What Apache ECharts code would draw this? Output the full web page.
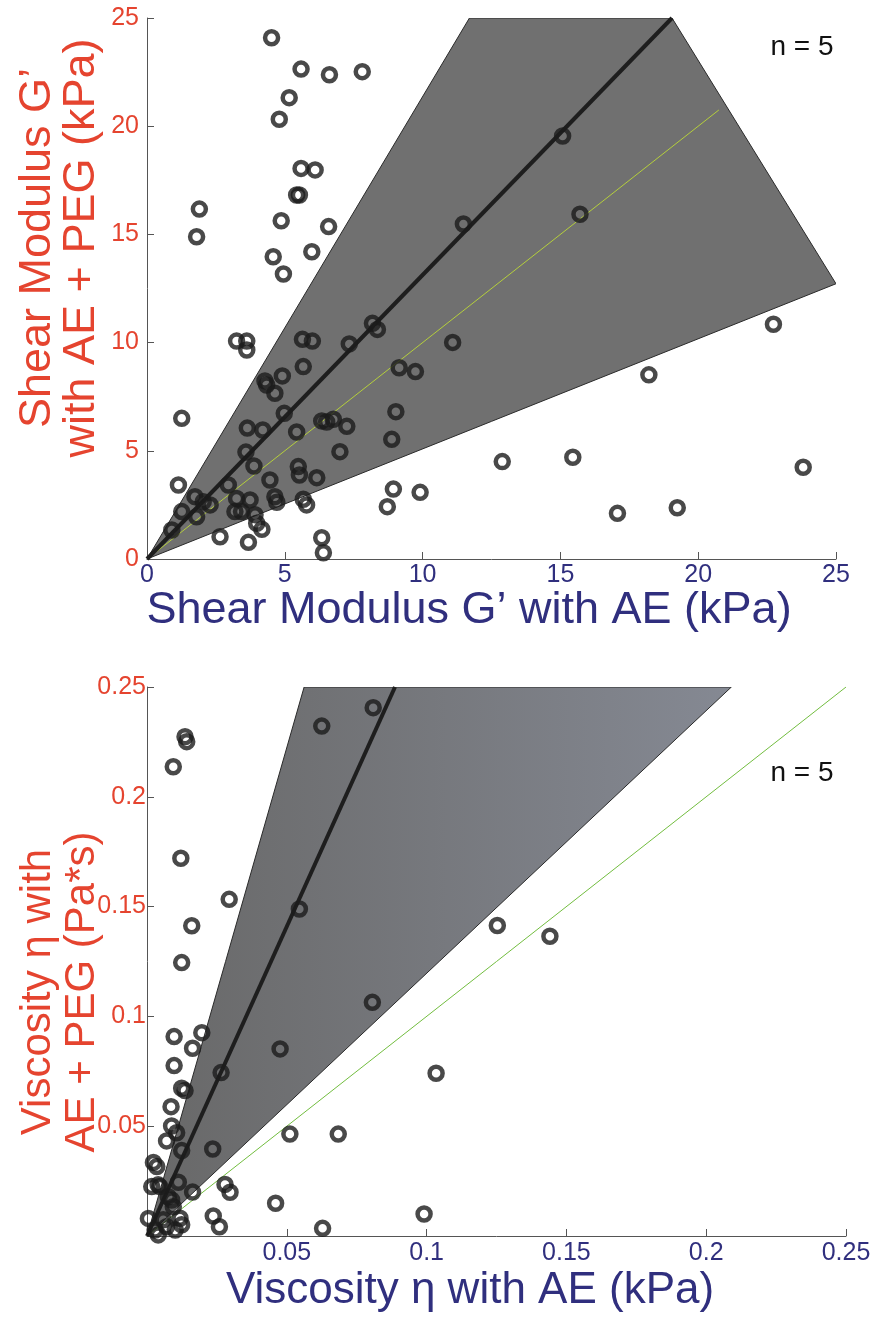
<!DOCTYPE html>
<html>
<head>
<meta charset="utf-8">
<script src="https://cdn.jsdelivr.net/npm/echarts@6/dist/echarts.min.js"></script>
<style>
  html, body { margin: 0; padding: 0; background: #ffffff; }
  #chart { width: 880px; height: 1321px; }
</style>
</head>
<body>
<div id="chart"></div>
<script>
// ---- Shear modulus G' (kPa): AE alone vs AE + PEG ----
const shearX = [4.52, 5.59, 6.62, 7.81, 5.16, 4.80, 15.08, 5.59, 6.10, 5.43, 5.53, 1.90, 1.80, 4.87, 6.59, 11.48, 15.71,
  4.58, 5.98, 4.95, 3.25, 3.62, 3.62, 5.64, 6.00, 7.34, 8.18, 8.36, 11.09, 22.73, 4.28, 4.34, 4.91, 4.64, 5.67, 9.15,
  9.74, 18.21, 1.26, 4.98, 3.64, 4.20, 5.43, 6.34, 6.52, 6.76, 7.25, 9.03, 8.88, 3.59, 3.88, 7.00, 1.14, 2.95, 5.49,
  5.53, 6.16, 4.46, 4.64, 4.71, 5.67, 5.79, 8.94, 8.72, 9.91, 1.74, 2.29, 1.26, 1.80, 0.90, 3.25, 3.74, 3.19, 3.43,
  3.92, 3.98, 4.17, 2.65, 3.68, 6.34, 6.40, 12.89, 15.45, 17.07, 19.24, 23.81, 2.04];
const shearY = [24.09, 22.64, 22.38, 22.52, 21.32, 20.32, 19.55, 18.05, 17.98, 16.82, 16.82, 16.17, 14.89, 15.63, 15.36,
  15.48, 15.93, 13.97, 14.20, 13.17, 10.07, 10.07, 9.66, 10.15, 10.07, 9.94, 10.89, 10.61, 10.01, 10.85, 8.23, 8.04,
  8.46, 7.66, 8.89, 8.84, 8.66, 8.51, 6.50, 6.73, 6.05, 5.96, 5.87, 6.38, 6.33, 6.46, 6.13, 6.81, 5.53, 4.94, 4.30,
  4.96, 3.42, 3.42, 4.27, 3.88, 3.76, 3.65, 2.88, 2.62, 2.76, 2.50, 3.23, 2.42, 3.08, 2.88, 2.50, 2.19, 1.95, 1.34,
  2.80, 2.73, 2.19, 2.19, 2.05, 1.65, 1.37, 1.03, 0.77, 0.98, 0.29, 4.50, 4.70, 2.11, 2.37, 4.24, 2.65];
const shearBand = [[0, 0], [11.7, 25], [19.05, 25], [25, 12.72]];
const shearFit = [[0, 0], [19.05, 25]];
const shearIdentity = [[0, 0], [20.75, 20.75]];
const shearTicks = [0, 5, 10, 15, 20, 25];

// ---- Viscosity eta: AE alone vs AE + PEG ----
const viscX = [0.0809, 0.0625, 0.0136, 0.0142, 0.0094, 0.0121, 0.0294, 0.0545, 0.0160, 0.0124, 0.1253, 0.1441, 0.0806,
  0.0196, 0.0097, 0.0163, 0.0476, 0.0097, 0.0265, 0.1034, 0.0124, 0.0136, 0.0086, 0.0088, 0.0106, 0.0070, 0.0124,
  0.0235, 0.0511, 0.0684, 0.0023, 0.0035, 0.0017, 0.0046, 0.0112, 0.0163, 0.0279, 0.0297, 0.0088, 0.0094, 0.0460,
  0.0991, 0.0237, 0.0259, 0.0628, 0.0005, 0.0118, 0.0124, 0.0058, 0.0070, 0.0029, 0.0040, 0.0101, 0.0076, 0.0040];
const viscY = [0.2406, 0.2322, 0.2274, 0.2251, 0.2137, 0.1720, 0.1533, 0.1489, 0.1413, 0.1245, 0.1414, 0.1365, 0.1064,
  0.0926, 0.0908, 0.0855, 0.0852, 0.0776, 0.0744, 0.0741, 0.0673, 0.0662, 0.0589, 0.0501, 0.0470, 0.0433, 0.0389,
  0.0396, 0.0464, 0.0464, 0.0335, 0.0316, 0.0225, 0.0225, 0.0245, 0.0200, 0.0235, 0.0199, 0.0164, 0.0133, 0.0149,
  0.0100, 0.0091, 0.0042, 0.0035, 0.0080, 0.0081, 0.0051, 0.0074, 0.0042, 0.0027, 0.0005, 0.0027, 0.0179, 0.0233];
const viscBand = [[0, 0], [0.0562, 0.25], [0.209, 0.25]];
const viscFit = [[0, 0], [0.0887, 0.25]];
const viscIdentity = [[0, 0], [0.25, 0.25]];
const viscTicks = [0, 0.05, 0.1, 0.15, 0.2, 0.25];

const RED = '#e5442f';
const NAVY = '#302f7e';
const FONT = '"Liberation Sans", Arial, Helvetica, sans-serif';
const TITLE_FONT = '45px ' + FONT;

const zip = (xs, ys) => xs.map((x, i) => [x, ys[i]]);

function valueAxis(gridIndex, ticks, labelColor, hideZero, margin) {
  return {
    type: 'value', gridIndex,
    min: ticks[0], max: ticks[ticks.length - 1], interval: ticks[1] - ticks[0],
    axisLine: { show: true, lineStyle: { color: '#555', width: 1 } },
    axisTick: { show: true, inside: true, length: 7, lineStyle: { color: '#555' } },
    splitLine: { show: false },
    axisLabel: {
      color: labelColor, fontFamily: FONT, fontSize: 25, margin,
      formatter: v => (hideZero && v === 0) ? '' : String(+v.toFixed(2))
    }
  };
}

// Filled polygon drawn from the band vertices, in data coordinates
function bandSeries(idx, pts, fill) {
  return {
    type: 'custom', xAxisIndex: idx, yAxisIndex: idx, clip: true, silent: true, z: 1,
    data: pts,
    renderItem: (params, api) => {
      if (params.dataIndex !== 0) return null;
      const poly = pts.map(p => api.coord(p));
      return {
        type: 'polygon',
        shape: { points: poly },
        style: { fill, stroke: '#2a2a2a', lineWidth: 1 }
      };
    }
  };
}

function lineSeries(idx, pts, color, width, z) {
  return {
    type: 'line', xAxisIndex: idx, yAxisIndex: idx, data: pts, symbol: 'none', silent: true, z,
    lineStyle: { color, width }
  };
}

function scatterSeries(idx, pts) {
  return {
    type: 'scatter', xAxisIndex: idx, yAxisIndex: idx, data: pts, z: 5,
    symbol: 'circle', symbolSize: 13,
    itemStyle: { color: 'rgba(0,0,0,0)', borderColor: '#1c1c1c', borderWidth: 4.5 }
  };
}

const chart = echarts.init(document.getElementById('chart'), null, { renderer: 'canvas' });

chart.setOption({
  backgroundColor: '#ffffff',
  animation: false,
  grid: [
    { left: 147, top: 18, width: 689, height: 541 },
    { left: 147, top: 687, width: 699, height: 549 }
  ],
  xAxis: [
    valueAxis(0, shearTicks, NAVY, false, 4),
    valueAxis(1, viscTicks, NAVY, true, 5)
  ],
  yAxis: [
    valueAxis(0, shearTicks, RED, false, 8),
    valueAxis(1, viscTicks, RED, true, 1)
  ],
  series: [
    bandSeries(0, shearBand, '#707070'),
    lineSeries(0, shearIdentity, '#b5cf3c', 1, 2),
    lineSeries(0, shearFit, '#1e1e1e', 4, 3),
    scatterSeries(0, zip(shearX, shearY)),

    bandSeries(1, viscBand, {
      type: 'linear', x: 0, y: 0, x2: 1, y2: 0,
      colorStops: [{ offset: 0, color: '#686868' }, { offset: 1, color: '#858993' }]
    }),
    lineSeries(1, viscIdentity, '#72bd3f', 1, 2),
    lineSeries(1, viscFit, '#1e1e1e', 4, 3),
    scatterSeries(1, zip(viscX, viscY))
  ],
  graphic: [
    { type: 'text', x: 60, y: 248, rotation: Math.PI / 2,
      style: { text: 'Shear Modulus G’\nwith AE + PEG (kPa)', fill: RED, font: TITLE_FONT,
        align: 'center', verticalAlign: 'middle', lineHeight: 44 } },
    { type: 'text', x: 469, y: 611,
      style: { text: 'Shear Modulus G’ with AE (kPa)', fill: NAVY, font: TITLE_FONT,
        align: 'center', verticalAlign: 'middle' } },
    { type: 'text', x: 802, y: 47,
      style: { text: 'n = 5', fill: '#111', font: '28px ' + FONT, align: 'center', verticalAlign: 'middle' } },

    { type: 'text', x: 60, y: 992, rotation: Math.PI / 2,
      style: { text: 'Viscosity η with\nAE + PEG (Pa*s)', fill: RED, font: '42px ' + FONT,
        align: 'center', verticalAlign: 'middle', lineHeight: 44 } },
    { type: 'text', x: 470, y: 1291,
      style: { text: 'Viscosity η with AE (kPa)', fill: NAVY, font: '44px ' + FONT,
        align: 'center', verticalAlign: 'middle' } },
    { type: 'text', x: 802, y: 773,
      style: { text: 'n = 5', fill: '#111', font: '28px ' + FONT, align: 'center', verticalAlign: 'middle' } }
  ]
});
</script>
</body>
</html>
